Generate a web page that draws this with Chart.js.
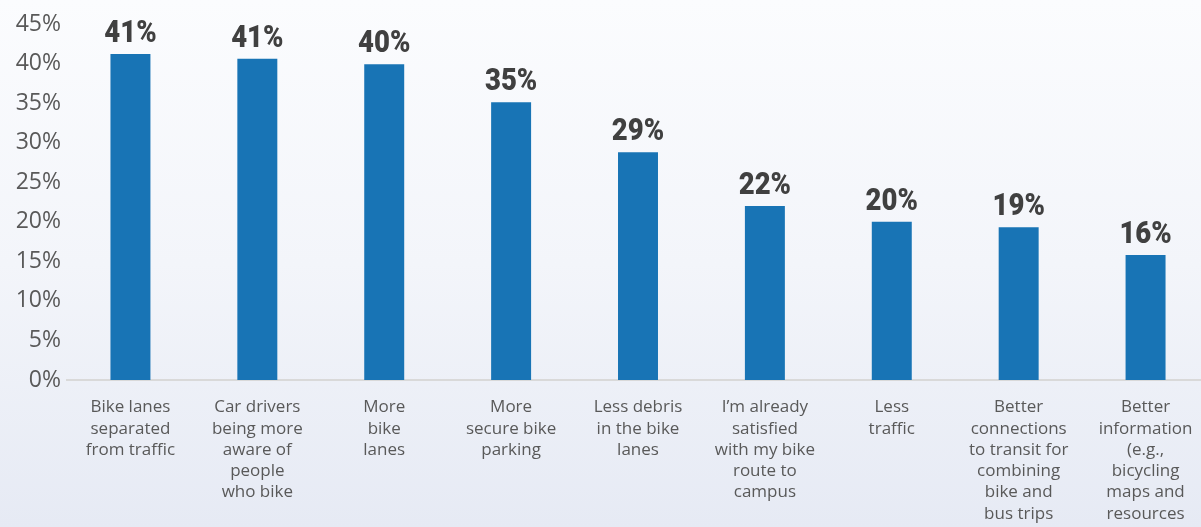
<!DOCTYPE html>
<html>
<head>
<meta charset="utf-8">
<title>Bike improvements</title>
<script src="https://cdn.jsdelivr.net/npm/chart.js@4/dist/chart.umd.min.js"></script>
<style>
  html, body { margin: 0; padding: 0; overflow: hidden; }
  body {
    width: 1201px; height: 527px;
    background: linear-gradient(to bottom, #fbfcfe 0%, #f3f5fa 50%, #e6eaf4 100%);
  }
  #wrap { position: relative; width: 1212px; height: 527px; }
</style>
</head>
<body>
<div id="wrap"><canvas id="chart"></canvas></div>
<script>
// Share of respondents choosing each improvement (percent)
const categories = [
  ["Bike lanes", "separated", "from traffic"],
  ["Car drivers", "being more", "aware of", "people", "who bike"],
  ["More", "bike", "lanes"],
  ["More", "secure bike", "parking"],
  ["Less debris", "in the bike", "lanes"],
  ["I\u2019m already", "satisfied", "with my bike", "route to", "campus"],
  ["Less", "traffic"],
  ["Better", "connections", "to transit for", "combining", "bike and", "bus trips"],
  ["Better", "information", "(e.g.,", "bicycling", "maps and", "resources"]
];
const shares = [41.2, 40.6, 39.9, 35.1, 28.8, 22.0, 20.0, 19.3, 15.8];
const yTicks = [0, 5, 10, 15, 20, 25, 30, 35, 40, 45];

const axisFont = "'Open Sans', 'DejaVu Sans', sans-serif";
const valueFont = "Roboto, 'DejaVu Sans', sans-serif";

// Value labels drawn above each bar, in a narrowed heavy face
const barValueLabels = {
  id: 'barValueLabels',
  afterDatasetsDraw(chart) {
    const ctx = chart.ctx;
    const meta = chart.getDatasetMeta(0);
    meta.data.forEach((bar, i) => {
      const v = chart.data.datasets[0].data[i];
      ctx.save();
      ctx.fillStyle = '#404040';
      ctx.font = "900 32px " + valueFont;
      ctx.textAlign = 'center';
      ctx.textBaseline = 'alphabetic';
      ctx.translate(bar.x, bar.y - 12);
      ctx.scale(0.86, 1);
      ctx.fillText(Math.round(v) + '%', 0, 0);
      ctx.restore();
    });
  }
};

new Chart(document.getElementById('chart'), {
  type: 'bar',
  data: {
    labels: categories,
    datasets: [{
      data: shares,
      backgroundColor: '#1874b5',
      borderWidth: 0,
      barPercentage: 0.315,
      categoryPercentage: 1
    }]
  },
  options: {
    responsive: true,
    maintainAspectRatio: false,
    animation: false,
    layout: { padding: { top: 24, right: 3, left: 0, bottom: 0 } },
    plugins: { legend: { display: false }, tooltip: { enabled: false } },
    scales: {
      x: {
        grid: { display: false, drawTicks: false },
        border: { display: true, color: '#d9d9d9', width: 2 },
        ticks: {
          autoSkip: false,
          maxRotation: 0,
          minRotation: 0,
          padding: 17,
          color: '#595959',
          font: { family: axisFont, size: 17, lineHeight: 1.25 }
        },
        afterFit(scale) { scale.height = 147; }
      },
      y: {
        min: 0,
        max: 45,
        grid: { display: false, drawTicks: false },
        border: { display: false },
        afterBuildTicks(scale) { scale.ticks = yTicks.map(v => ({ value: v })); },
        ticks: {
          padding: 6,
          color: '#595959',
          font: { family: axisFont, size: 23 },
          callback: v => v + '%'
        },
        afterFit(scale) { scale.width = 67; }
      }
    }
  },
  plugins: [barValueLabels]
});
</script>
</body>
</html>
